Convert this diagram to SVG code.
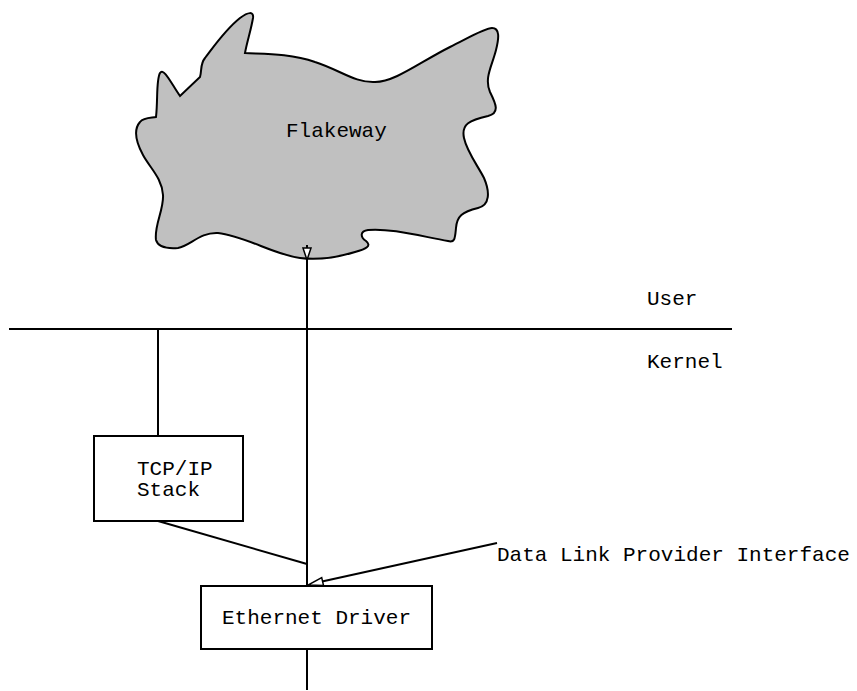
<svg xmlns="http://www.w3.org/2000/svg" width="857" height="691" viewBox="0 0 857 691">
<style>
text{font-family:"Liberation Mono","DejaVu Sans Mono",monospace;font-size:21px;fill:#000}
.ln{stroke:#000;stroke-width:2;fill:none}
.box{stroke:#000;stroke-width:2;fill:#fff}
</style>
<rect width="857" height="691" fill="#fff"/>
<g id="flakeway">
<path d="M245,53 C262,54 290,53 315,62 C340,70 355,83 375,82 C395,82 420,62 450,47 C470,37 485,28 492,28 C500,28 499,38 496,50 C492,66 484,78 490,92 C496,104 500,113 488,116 C470,120 461,124 464,138 C467,152 478,166 484,178 C490,192 490,205 478,208 C462,212 457,216 456,228 C455,238 455,243 448,241 C420,236 390,228 368,230 C360,231 360,237 366,241 C372,246 366,249 355,252 C335,258 315,260 300,258 C275,255 245,236 218,233 C200,232 190,246 178,248 C165,249 158,247 156,240 C154,225 164,210 163,195 C162,178 150,168 143,155 C136,142 133,130 140,122 C144,117 152,118 156,117 C158,100 156,80 160,73 C164,67 172,85 180,96 L200,77 C202,70 200,64 205,58 C215,45 225,30 240,18 C248,12 254,11 253,18 C251,30 247,42 245,53 Z" fill="#c0c0c0" stroke="#000" stroke-width="2"/>
<text x="286" y="137">Flakeway</text>
</g>
<g id="tcpip">
<rect class="box" x="94" y="436" width="149" height="85"/>
<text x="137" y="475">TCP/IP</text>
<text x="137" y="496">Stack</text>
</g>
<g id="ethernet">
<rect class="box" x="201" y="586" width="231" height="63"/>
<text x="222" y="624">Ethernet Driver</text>
</g>
<g id="labels">
<text x="647" y="305">User</text>
<text x="647" y="368">Kernel</text>
<text x="497" y="561">Data Link Provider Interface</text>
</g>
<g id="connectors">
<line class="ln" x1="9" y1="329" x2="732" y2="329"/>
<line class="ln" x1="307" y1="245" x2="307" y2="586"/>
<line class="ln" x1="307" y1="649" x2="307" y2="690"/>
<line class="ln" x1="158" y1="329" x2="158" y2="436"/>
<line class="ln" x1="158" y1="521" x2="307" y2="564"/>
<line class="ln" x1="497" y1="543" x2="322" y2="581.5"/>
<polygon points="303,248 311,248 307,260" fill="#fff" stroke="#000" stroke-width="1.5"/>
<polygon points="308,585 323.5,585.4 321.7,577.6" fill="#fff" stroke="#000" stroke-width="1.5"/>
</g>
</svg>
